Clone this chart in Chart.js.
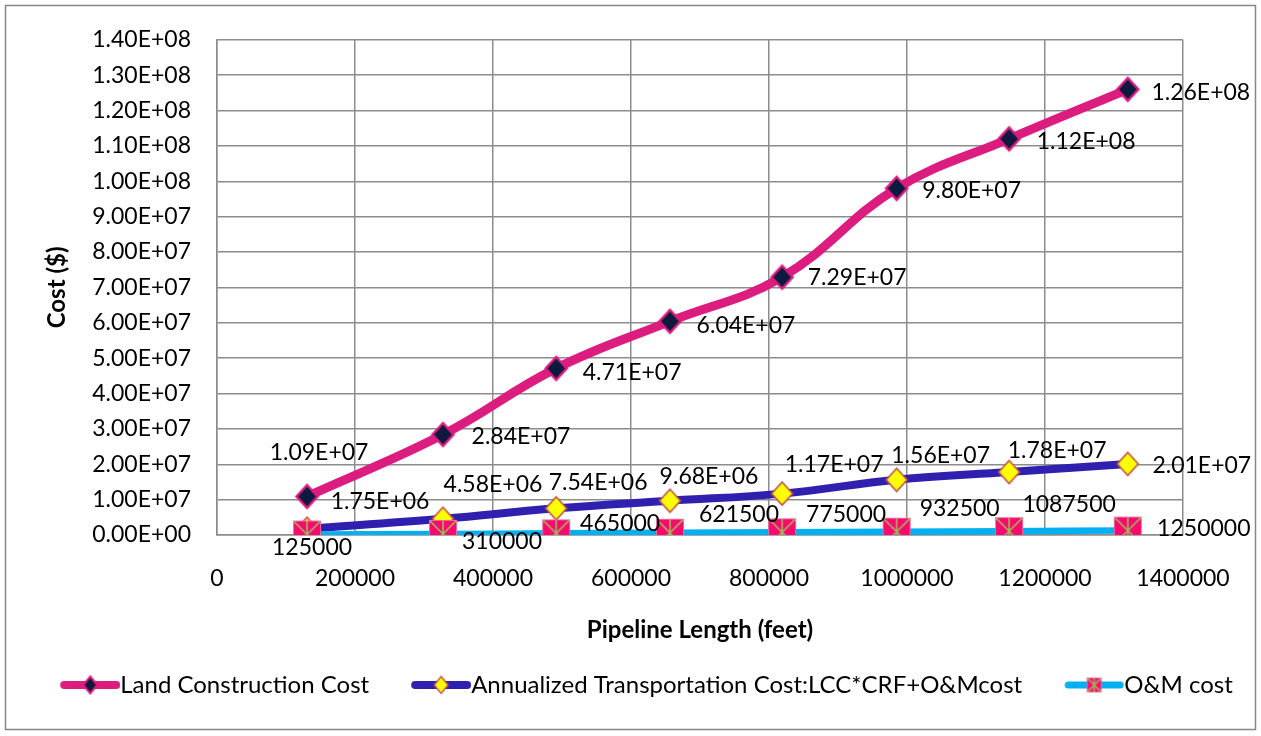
<!DOCTYPE html>
<html>
<head>
<meta charset="utf-8">
<title>Pipeline cost</title>
<script src="https://cdn.jsdelivr.net/npm/chart.js@4.4.1/dist/chart.umd.min.js"></script>
<style>
  html, body { margin: 0; padding: 0; background: #fff; }
  canvas { display: block; }
</style>
</head>
<body>
<canvas id="costChart" width="1261" height="736"></canvas>
<script>
// values
const lengthFeet = [130500, 327500, 491500, 656500, 819000, 985000, 1148000, 1320000];
const landCost = [1.09e7, 2.84e7, 4.71e7, 6.04e7, 7.29e7, 9.80e7, 1.12e8, 1.26e8];
const annualCost = [1.75e6, 4.58e6, 7.54e6, 9.68e6, 1.17e7, 1.56e7, 1.78e7, 2.01e7];
const omCost = [125000, 310000, 465000, 621500, 775000, 932500, 1087500, 1250000];
const seriesNames = ['Land Construction Cost', 'Annualized Transportation Cost:LCC*CRF+O&Mcost', 'O&M cost'];

// where each data label sits relative to its point (label centre, px)
const labelOffsets = [
    [[12, -44], [78, 2], [76, 4], [76, 4], [75, 0], [75, 2], [77, 3], [73, 3]],
    [[73, -27], [50, -34], [42, -26], [39, -24], [52, -29], [44, -24], [48, -21], [74, 2]],
    [[5, 13], [59, 8], [64, -10], [69, -18], [64, -18], [63, -23], [60, -27], [76, -2]]
];

const FONT = 'Lato, "Open Sans", sans-serif';
const TICK_SIZE = 23;
const TITLE_SIZE = 24;
const gridColor = '#8c8c8c';

// Excel style 0.00E+00
function sci(v) {
    const parts = Number(v).toExponential(2).split('e');
    const exp = parseInt(parts[1], 10);
    const sign = exp < 0 ? '-' : '+';
    return parts[0] + 'E' + sign + String(Math.abs(exp)).padStart(2, '0');
}

function makeDiamond(w, h, fill, stroke, lw) {
    const c = document.createElement('canvas');
    c.width = w + 6; c.height = h + 6;
    const g = c.getContext('2d');
    const cx = c.width / 2, cy = c.height / 2;
    g.beginPath();
    g.moveTo(cx, cy - h / 2);
    g.lineTo(cx + w / 2, cy);
    g.lineTo(cx, cy + h / 2);
    g.lineTo(cx - w / 2, cy);
    g.closePath();
    g.fillStyle = fill;
    g.fill();
    g.lineWidth = lw;
    g.strokeStyle = stroke;
    g.stroke();
    return c;
}

function makeStarBox(s) {
    const c = document.createElement('canvas');
    c.width = s + 2; c.height = s + 2;
    const g = c.getContext('2d');
    const o = 1;
    g.fillStyle = '#fa0a6e';
    g.fillRect(o, o, s, s);
    g.strokeStyle = '#f06aa0';
    g.lineWidth = 1;
    g.strokeRect(o + 0.5, o + 0.5, s - 1, s - 1);
    g.strokeStyle = '#9bbb59';
    g.lineWidth = 1.6;
    g.beginPath();
    g.moveTo(o + 1, o + 1); g.lineTo(o + s - 1, o + s - 1);
    g.moveTo(o + s - 1, o + 1); g.lineTo(o + 1, o + s - 1);
    g.moveTo(o + s / 2, o + 1); g.lineTo(o + s / 2, o + s - 1);
    g.stroke();
    return c;
}

function makeLegendIcon(lineColor, lineWidth, marker) {
    const c = document.createElement('canvas');
    c.width = 104; c.height = 28;
    const g = c.getContext('2d');
    g.strokeStyle = lineColor;
    g.lineWidth = lineWidth;
    g.lineCap = 'round';
    g.beginPath();
    g.moveTo(48, 14);
    g.lineTo(100, 14);
    g.stroke();
    g.drawImage(marker, 74 - marker.width / 2, 14 - marker.height / 2);
    return c;
}

const landMarker = makeDiamond(21, 23, '#0d1a3e', '#dc1c7e', 2.5);
const annualMarker = makeDiamond(21, 23, '#ffff00', '#c0504d', 1.6);
const omMarker = makeStarBox(28);

const legendIcons = [
    makeLegendIcon('#dc1c7e', 8, makeDiamond(14, 17, '#0d1a3e', '#dc1c7e', 2)),
    makeLegendIcon('#3020b0', 8, makeDiamond(14, 17, '#ffff00', '#c0504d', 1.4)),
    makeLegendIcon('#00b0f0', 7, makeStarBox(15))
];

// outer chart frame
const framePlugin = {
    id: 'frame',
    beforeDraw(chart) {
        const ctx = chart.ctx;
        ctx.save();
        ctx.fillStyle = '#fff';
        ctx.fillRect(0, 0, chart.width, chart.height);
        ctx.strokeStyle = '#868686';
        ctx.lineWidth = 1.5;
        ctx.strokeRect(5.5, 5.5, chart.width - 11, chart.height - 12);
        ctx.restore();
    }
};

// data labels next to each point
const pointLabels = {
    id: 'pointLabels',
    afterDatasetsDraw(chart) {
        const ctx = chart.ctx;
        ctx.save();
        ctx.font = TICK_SIZE + 'px ' + FONT;
        ctx.fillStyle = '#000';
        ctx.textAlign = 'center';
        ctx.textBaseline = 'middle';
        chart.data.datasets.forEach(function(ds, di) {
            const meta = chart.getDatasetMeta(di);
            meta.data.forEach(function(pt, i) {
                const v = ds.data[i].y;
                const txt = di === 2 ? String(v) : sci(v);
                const off = labelOffsets[di][i];
                ctx.fillText(txt, pt.x + off[0], pt.y + off[1]);
            });
        });
        ctx.restore();
    }
};

function toPoints(values) {
    return values.map(function(v, i) { return { x: lengthFeet[i], y: v }; });
}

function buildChart() {
    const ctx = document.getElementById('costChart').getContext('2d');
    new Chart(ctx, {
        type: 'scatter',
        data: {
            datasets: [
                {
                    label: seriesNames[0],
                    data: toPoints(landCost),
                    showLine: true,
                    borderColor: '#dc1c7e',
                    borderWidth: 9,
                    tension: 0.4,
                    pointStyle: landMarker,
                    pointRadius: 10,
                    order: 3
                },
                {
                    label: seriesNames[1],
                    data: toPoints(annualCost),
                    showLine: true,
                    borderColor: '#3020b0',
                    borderWidth: 8,
                    tension: 0.4,
                    pointStyle: annualMarker,
                    pointRadius: 10,
                    order: 2
                },
                {
                    label: seriesNames[2],
                    data: toPoints(omCost),
                    showLine: true,
                    borderColor: '#00b0f0',
                    borderWidth: 6.5,
                    tension: 0.4,
                    pointStyle: omMarker,
                    pointRadius: 14,
                    order: 1
                }
            ]
        },
        options: {
            responsive: false,
            animation: false,
            layout: { padding: { top: 34, right: 0, bottom: 29, left: 0 } },
            scales: {
                x: {
                    type: 'linear',
                    min: 0,
                    max: 1400000,
                    afterFit: function(scale) { scale.height = 128; },
                    ticks: {
                        stepSize: 200000,
                        padding: 30,
                        color: '#000',
                        font: { family: FONT, size: TICK_SIZE },
                        maxRotation: 0,
                        callback: function(v) { return String(v); }
                    },
                    grid: { color: gridColor, lineWidth: 1.5, drawTicks: false },
                    border: { color: gridColor, width: 1.5 },
                    title: {
                        display: true,
                        text: 'Pipeline Length (feet)',
                        color: '#000',
                        font: { family: FONT, size: TITLE_SIZE, weight: 'bold' },
                        padding: { top: 0, bottom: 18 }
                    }
                },
                y: {
                    min: 0,
                    max: 1.4e8,
                    afterFit: function(scale) { scale.width = 217; },
                    ticks: {
                        stepSize: 1e7,
                        padding: 26,
                        color: '#000',
                        font: { family: FONT, size: TICK_SIZE },
                        callback: function(v) { return sci(v); }
                    },
                    grid: { color: gridColor, lineWidth: 1.5, drawTicks: false },
                    border: { color: gridColor, width: 1.5 },
                    title: {
                        display: true,
                        text: 'Cost ($)',
                        color: '#000',
                        font: { family: FONT, size: TITLE_SIZE, weight: 'bold' },
                        padding: { top: 43, bottom: 0 }
                    }
                },
                // empty right margin so the legend keeps the full width
                yRight: {
                    position: 'right',
                    min: 0,
                    max: 1.4e8,
                    afterFit: function(scale) { scale.width = 78; },
                    ticks: { display: false },
                    grid: { display: false, drawTicks: false },
                    border: { display: false }
                }
            },
            plugins: {
                legend: {
                    position: 'bottom',
                    labels: {
                        usePointStyle: true,
                        pointStyleWidth: 80,
                        padding: 10,
                        color: '#000',
                        font: { family: FONT, size: TITLE_SIZE },
                        generateLabels: function(chart) {
                            return chart.data.datasets.map(function(ds, i) {
                                return {
                                    text: ds.label,
                                    pointStyle: legendIcons[i],
                                    fillStyle: 'transparent',
                                    strokeStyle: 'transparent',
                                    lineWidth: 0,
                                    hidden: false,
                                    datasetIndex: i,
                                    fontColor: '#000'
                                };
                            });
                        }
                    }
                },
                tooltip: { enabled: false }
            }
        },
        plugins: [framePlugin, pointLabels]
    });
}

Promise.all([
    document.fonts.load('23px Lato'),
    document.fonts.load('bold 24px Lato')
]).then(buildChart, buildChart);
</script>
</body>
</html>
